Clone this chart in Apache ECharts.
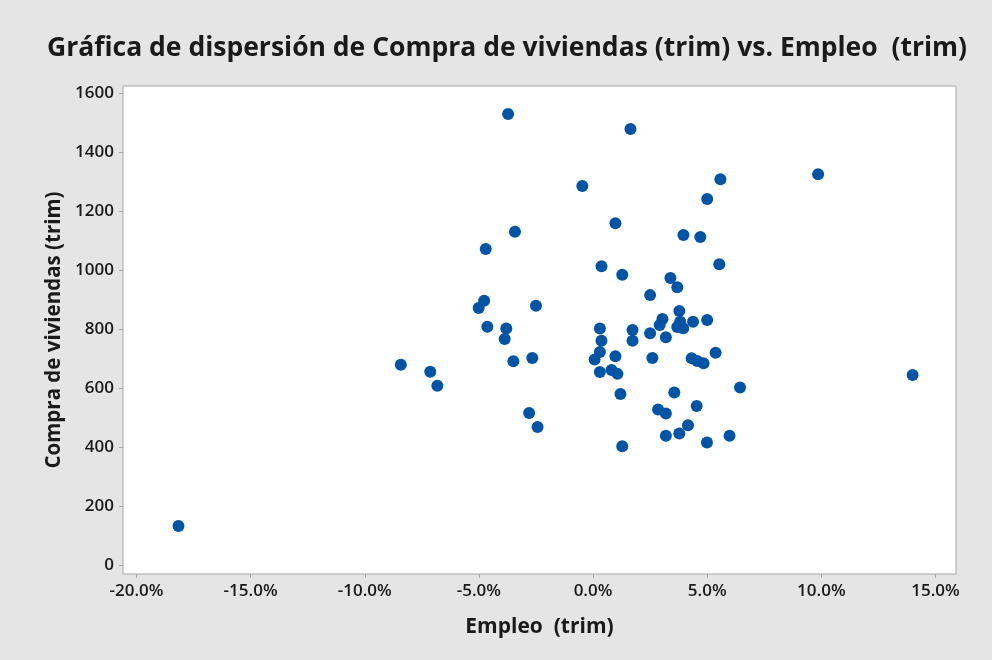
<!DOCTYPE html>
<html>
<head>
<meta charset="utf-8">
<title>Gráfica de dispersión</title>
<script src="https://cdn.jsdelivr.net/npm/echarts@6/dist/echarts.min.js"></script>
<style>
  html, body { margin: 0; padding: 0; background: #e5e5e5; }
  #chart { width: 992px; height: 660px; }
</style>
</head>
<body>
<div id="chart"></div>
<script>
// Empleo (trim), in percent
var empleo = [
  -18.16, -8.42, -7.13, -6.82, -5.01, -4.77, -4.70, -4.63, -3.72, -3.87,
  -3.80, -3.42, -3.49, -2.66, -2.50, -2.80, -2.43, -0.47, 1.64, 0.98,
  0.37, 0.30, 0.37, 0.30, 0.07, 0.98, 0.30, 0.81, 1.07, 2.60,
  1.28, 3.39, 3.69, 3.78, 3.04, 2.92, 3.82, 3.95, 3.69, 5.00,
  4.38, 5.37, 3.96, 4.70, 5.53, 4.32, 4.56, 4.84, 3.56, 6.44,
  2.85, 3.19, 4.54, 4.16, 3.78, 3.19, 4.99, 5.98, 1.28, 1.20,
  5.00, 5.58, 9.86, 14.00, 2.50, 2.50, 1.73, 1.73, 3.19
];
// Compra de viviendas (trim)
var compra = [
  132, 679, 655, 608, 871, 896, 1071, 808, 1529, 766,
  802, 1130, 691, 702, 879, 515, 468, 1285, 1478, 1159,
  1013, 802, 760, 722, 697, 708, 654, 661, 648, 702,
  984, 973, 942, 861, 834, 814, 825, 803, 807, 831,
  825, 720, 1119, 1112, 1020, 701, 692, 684, 585, 602,
  527, 514, 539, 474, 446, 438, 415, 438, 403, 580,
  1241, 1308, 1325, 644, 915, 786, 797, 760, 772
];
var xTicks = [-20, -15, -10, -5, 0, 5, 10, 15];
var yTicks = [0, 200, 400, 600, 800, 1000, 1200, 1400, 1600];

var points = empleo.map(function (x, i) { return [x, compra[i]]; });

var chart = echarts.init(document.getElementById('chart'));
var font = '"Open Sans", "Noto Sans", sans-serif';

chart.setOption({
  backgroundColor: '#e5e5e5',
  animation: false,
  title: {
    text: 'Gráfica de dispersión de Compra de viviendas (trim) vs. Empleo  (trim)',
    left: 42,
    top: 30,
    textStyle: { fontFamily: font, fontSize: 26.5, fontWeight: 'bold', color: '#1a1a1a' }
  },
  grid: {
    left: 123, right: 36, top: 86, bottom: 86,
    show: true,
    backgroundColor: '#ffffff',
    borderColor: '#a6a6a6',
    borderWidth: 1
  },
  xAxis: {
    type: 'value',
    min: -20.59,
    max: 15.9,
    name: 'Empleo  (trim)',
    nameLocation: 'middle',
    nameGap: 43,
    nameTextStyle: { fontFamily: font, fontSize: 21, fontWeight: 'bold', color: '#1a1a1a' },
    axisLine: { show: false, onZero: false },
    splitLine: { show: false },
    axisTick: { show: true, length: 4, lineStyle: { color: '#a6a6a6' }, customValues: xTicks },
    axisLabel: {
      customValues: xTicks,
      margin: 9,
      fontFamily: font, fontSize: 17, fontWeight: 600, color: '#1a1a1a',
      formatter: function (v) { return v.toFixed(1) + '%'; }
    }
  },
  yAxis: {
    type: 'value',
    min: -30.5,
    max: 1624,
    name: 'Compra de viviendas (trim)',
    nameLocation: 'middle',
    nameGap: 50,
    nameTextStyle: { fontFamily: font, fontSize: 20.5, fontWeight: 'bold', color: '#1a1a1a' },
    axisLine: { show: false, onZero: false },
    splitLine: { show: false },
    axisTick: { show: true, length: 4, lineStyle: { color: '#a6a6a6' }, customValues: yTicks },
    axisLabel: {
      customValues: yTicks,
      margin: 9,
      fontFamily: font, fontSize: 17, fontWeight: 600, color: '#1a1a1a',
      formatter: function (v) { return String(v); }
    }
  },
  series: [{
    type: 'scatter',
    data: points,
    symbol: 'circle',
    symbolSize: 12,
    itemStyle: { color: '#0054a6', opacity: 1 }
  }]
});
</script>
</body>
</html>
